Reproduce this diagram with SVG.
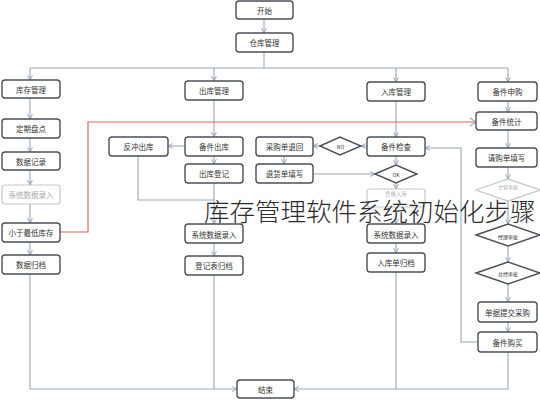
<svg xmlns="http://www.w3.org/2000/svg" width="540" height="400" viewBox="0 0 540 400">
<defs>
<marker id="arr" viewBox="0 0 10 10" refX="9" refY="5" markerWidth="6" markerHeight="6" orient="auto" markerUnits="userSpaceOnUse">
<path d="M1,1 L9,5 L1,9" fill="none" stroke="#8fa0b4" stroke-width="1.6"/>
</marker>
</defs>
<style>
.n rect,.n polygon{fill:#fff;stroke:#4a5058;stroke-width:1.4}
.g rect,.g polygon{fill:#fff;stroke:#c4c8cc;stroke-width:1.2}
.n text,.g text{font-family:"Noto Sans CJK SC","Noto Sans",sans-serif;font-size:7.5px;text-anchor:middle;dominant-baseline:central;fill:#333}
.g text{fill:#aaa}
.c path{fill:none;stroke:#9aa8b8;stroke-width:1.1}
.c path.a{marker-end:url(#arr)}
.red{fill:none;stroke:#d46a66;stroke-width:1.2}
.title{font-family:"Noto Sans CJK SC","Noto Sans",sans-serif;font-size:25.5px;font-weight:300;fill:#2a2a2a}
</style>
<rect width="540" height="400" fill="#fff"/>

<g class="c" id="connectors">
<path class="a" d="M264,19 V33"/>
<path d="M264,52 V68"/>
<path d="M30,68 H508"/>
<path class="a" d="M30,68 V80"/>
<path class="a" d="M214,68 V81"/>
<path class="a" d="M396,68 V82"/>
<path class="a" d="M508,68 V82"/>
<path class="a" d="M30,98 V119"/>
<path class="a" d="M30,138 V152"/>
<path class="a" d="M30,170 V185"/>
<path class="a" d="M30,204 V223"/>
<path class="a" d="M30,242 V255"/>
<path class="a" d="M30,274 V389 H237"/>
<path class="a" d="M214,100 V137"/>
<path class="a" d="M185,146 H168"/>
<path class="a" d="M214,156 V164"/>
<path class="a" d="M214,183 V224"/>
<path d="M138,156 V200 H214"/>
<path class="a" d="M214,243 V256"/>
<path d="M214,275 V389"/>
<path class="a" d="M396,101 V137"/>
<path class="a" d="M367,146 H361"/>
<path class="a" d="M320,146 H313"/>
<path class="a" d="M284,156 V164"/>
<path class="a" d="M313,174 H375"/>
<path class="a" d="M396,156 V165"/>
<path class="a" d="M396,183 V189"/>
<path class="a" d="M396,207 V224"/>
<path class="a" d="M396,243 V253"/>
<path d="M396,272 V389"/>
<path class="a" d="M508,101 V112"/>
<path class="a" d="M508,130 V148"/>
<path class="a" d="M508,167 V179"/>
<path class="a" d="M508,201 V224"/>
<path class="a" d="M508,246 V262"/>
<path class="a" d="M508,284 V302"/>
<path class="a" d="M508,322 V332"/>
<path class="a" d="M478,342 H461 V148 H425"/>
<path class="a" d="M508,352 V389 H294"/>
<path d="M470,118 L476,122 L470,126"/>
</g>
<path class="red" d="M60,232 H88 V122 H475"/>

<g class="n" id="n-start"><rect x="236" y="1" width="57" height="18" rx="3"/><text x="264.5" y="10">开始</text></g>
<g class="n" id="n-cangku"><rect x="236" y="33" width="57" height="19" rx="3"/><text x="264.5" y="42.5">仓库管理</text></g>

<g class="n" id="n-kucun"><rect x="2" y="80" width="58" height="18" rx="3"/><text x="31" y="89">库存管理</text></g>
<g class="n" id="n-pandian"><rect x="2" y="119" width="58" height="19" rx="3"/><text x="31" y="128.5">定期盘点</text></g>
<g class="n" id="n-jilu"><rect x="2" y="152" width="58" height="18" rx="3"/><text x="31" y="161">数据记录</text></g>
<g class="g" id="n-luru1"><rect x="2" y="185" width="58" height="19" rx="3"/><text x="31" y="194.5">系统数据录入</text></g>
<g class="n" id="n-zuidi"><rect x="2" y="223" width="58" height="19" rx="3"/><text x="31" y="232.5">小于最低库存</text></g>
<g class="n" id="n-guidang1"><rect x="2" y="255" width="58" height="19" rx="3"/><text x="31" y="264.5">数据归档</text></g>

<g class="n" id="n-chuku"><rect x="185" y="81" width="58" height="19" rx="3"/><text x="214" y="90.5">出库管理</text></g>
<g class="n" id="n-beijianchu"><rect x="185" y="137" width="58" height="19" rx="3"/><text x="214" y="146.5">备件出库</text></g>
<g class="n" id="n-fanchong"><rect x="109" y="137" width="59" height="19" rx="3"/><text x="138.5" y="146.5">反冲出库</text></g>
<g class="n" id="n-dengji"><rect x="185" y="164" width="58" height="19" rx="3"/><text x="214" y="173.5">出库登记</text></g>
<g class="n" id="n-luru2"><rect x="185" y="224" width="58" height="19" rx="3"/><text x="214" y="234">系统数据录入</text></g>
<g class="n" id="n-guidang2"><rect x="185" y="256" width="58" height="19" rx="3"/><text x="214" y="265.5">登记表归档</text></g>

<g class="n" id="n-ruku"><rect x="367" y="82" width="58" height="19" rx="3"/><text x="396" y="91.5">入库管理</text></g>
<g class="n" id="n-jiancha"><rect x="367" y="137" width="58" height="19" rx="3"/><text x="396" y="146.5">备件检查</text></g>
<g class="n" id="n-no"><polygon points="320,146 340,137 361,146 340,155"/><text x="340.5" y="146" style="font-size:5px">NO</text></g>
<g class="n" id="n-tuihui"><rect x="256" y="137" width="57" height="19" rx="3"/><text x="284.5" y="146.5">采购单退回</text></g>
<g class="n" id="n-tianxie"><rect x="256" y="164" width="57" height="19" rx="3"/><text x="284.5" y="173.5">退货单填写</text></g>
<g class="n" id="n-ok"><polygon points="375,174 396,165 417,174 396,183"/><text x="396" y="174" style="font-size:5px">OK</text></g>
<g class="g" id="n-hege"><rect x="367" y="189" width="58" height="18" rx="3"/><text x="396" y="193.5" style="font-size:5.5px">合格入库</text></g>
<g class="n" id="n-luru3"><rect x="367" y="224" width="58" height="19" rx="3"/><text x="396" y="234">系统数据录入</text></g>
<g class="n" id="n-guidang3"><rect x="367" y="253" width="58" height="19" rx="3"/><text x="396" y="262.5">入库单归档</text></g>

<g class="n" id="n-shengou"><rect x="478" y="82" width="59" height="19" rx="3"/><text x="507.5" y="91.5">备件申购</text></g>
<g class="n" id="n-tongji"><rect x="476" y="112" width="61" height="18" rx="3"/><text x="506.5" y="121">备件统计</text></g>
<g class="n" id="n-qinggou"><rect x="476" y="148" width="61" height="19" rx="3"/><text x="506.5" y="157.5">请购单填写</text></g>
<g class="g" id="n-zhuguan"><polygon points="476,190 508,179 540,190 508,201"/><text x="508" y="186.5" style="font-size:5px">主管审批</text></g>
<g class="n" id="n-jingli"><polygon points="476,235 508,224 540,235 508,246"/><text x="508" y="236" style="font-size:5px">经理审批</text></g>
<g class="n" id="n-zongjing"><polygon points="476,273 508,262 540,273 508,284"/><text x="508" y="273" style="font-size:5px">总经审批</text></g>
<g class="n" id="n-tijiao"><rect x="478" y="302" width="59" height="20" rx="3"/><text x="507.5" y="312">单据提交采购</text></g>
<g class="n" id="n-goumai"><rect x="478" y="332" width="59" height="20" rx="3"/><text x="507.5" y="342">备件购买</text></g>

<g class="n" id="n-end"><rect x="237" y="380" width="57" height="18" rx="3"/><text x="265.5" y="389">结束</text></g>

<text class="title" x="204" y="221">库存管理软件系统初始化步骤</text>
</svg>
